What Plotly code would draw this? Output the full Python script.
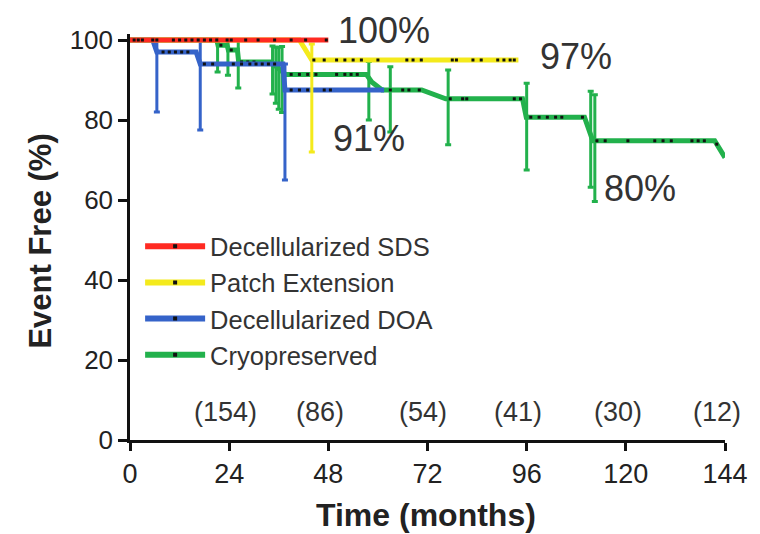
import numpy as np
import plotly.graph_objects as go

# ---------------- data ----------------
series_names = ["Decellularized SDS", "Patch Extension", "Decellularized DOA", "Cryopreserved"]
series_colors = ["#ff2a22", "#f4ea1c", "#3563c9", "#22b14c"]

# Kaplan-Meier curves (time in months, event free %)
sds_t = [0, 48]
sds_s = [100, 100]
sds_cens = [1, 2, 3, 5.5, 6.5, 10.5, 12, 13.5, 15, 16.5, 18, 19.5, 21, 23.5, 24.5, 28, 31, 35, 39, 42.5, 47.5]

pe_t = [0, 41, 44, 94]
pe_s = [100, 100, 95, 95]
pe_cens = [44.5, 47, 50, 52, 54, 56, 60, 67, 68.5, 70.5, 78, 79, 83, 85, 89, 90.5, 92, 93]
pe_err_t = [44]
pe_err_s = [95]
pe_err_up = [4]
pe_err_dn = [23]

doa_t = [0, 5.5, 6.5, 16, 17, 37, 37.5, 61.5]
doa_s = [100, 100, 97, 97, 94, 94, 87.5, 87.5]
doa_cens = [8, 9.5, 11, 12.5, 14, 18, 20, 25, 27, 29, 30.5, 32, 33.5, 35, 39, 41, 43, 47, 48.5]
doa_err_t = [6.5, 17, 37.5]
doa_err_s = [97, 94, 87.5]
doa_err_up = [3, 6, 6.5]
doa_err_dn = [15, 16.5, 22.5]

cryo_t = [0, 21, 21.3, 23.5, 23.8, 26, 26.3, 34.3, 35.5, 36.5, 37.7, 57.2, 58.5, 61, 70.6, 76.4, 95, 95.9, 110, 112, 141.5, 144]
cryo_s = [100, 100, 98.7, 98.7, 97.5, 97.5, 94.5, 94.5, 93.2, 92.2, 91.4, 91.4, 89.5, 87.5, 87.5, 85.3, 85.3, 80.7, 80.7, 74.8, 74.8, 70.6]
cryo_cens = [22, 24.5, 27, 28.5, 30, 39, 41, 43, 45, 50, 52, 53.5, 55, 63, 66, 67.5, 70, 77.5, 80.5, 81.5, 93, 94.5,
             97, 99, 101, 103, 104.5, 109.5, 113, 115, 120.5, 127, 129, 131, 136, 137.5, 139, 142]
cryo_err_t = [21.2, 23.7, 26.2, 34.5, 35.3, 36, 36.8, 57.8, 63, 77, 96, 111.5, 112.5]
cryo_err_s = [98.7, 97.5, 94.5, 94.5, 93.2, 92.2, 91.4, 91.4, 87.5, 85.3, 80.7, 80.7, 74.8]
cryo_err_up = [1.3, 2.5, 5.5, 4, 5, 6, 7, 3.2, 5.8, 7.2, 8.5, 6.5, 11.5]
cryo_err_dn = [6.7, 6.3, 6.5, 8, 9, 9.5, 9.5, 11.4, 10.5, 11.5, 13.2, 17.5, 15.2]

risk_t = [23, 46, 71, 94, 118, 142]
risk_n = [154, 86, 54, 41, 30, 12]

pct_labels = ["100%", "97%", "91%", "80%"]
pct_t = [61.5, 108, 57.8, 123.4]
pct_s = [102.5, 95.8, 75.5, 63]

x_ticks = [0, 24, 48, 72, 96, 120, 144]
y_ticks = [0, 20, 40, 60, 80, 100]

Y_MAX = 101.5

# ---------------- figure ----------------
fig = go.Figure()

curves = [
    (sds_t, sds_s, sds_cens, None),
    (pe_t, pe_s, pe_cens, (pe_err_t, pe_err_s, pe_err_up, pe_err_dn)),
    (doa_t, doa_s, doa_cens, (doa_err_t, doa_err_s, doa_err_up, doa_err_dn)),
    (cryo_t, cryo_s, cryo_cens, (cryo_err_t, cryo_err_s, cryo_err_up, cryo_err_dn)),
]

draw_order = [3, 2, 1, 0]
for i in draw_order:
    t, s, cens, err = curves[i]
    col = series_colors[i]
    if err is not None:
        et, es, eu, ed = err
        fig.add_trace(go.Scatter(
            x=et, y=es, mode="markers", marker=dict(size=1, color=col, opacity=0),
            error_y=dict(type="data", symmetric=False, array=eu, arrayminus=ed,
                         color=col, thickness=3, width=3),
            showlegend=False, hoverinfo="skip"))
    fig.add_trace(go.Scatter(
        x=t, y=s, mode="lines", line=dict(color=col, width=5),
        showlegend=False, hoverinfo="skip"))
    cy = np.interp(cens, t, s)
    fig.add_trace(go.Scatter(
        x=cens, y=cy, mode="markers",
        marker=dict(symbol="square", size=3, color="#111111"),
        showlegend=False, hoverinfo="skip", cliponaxis=False))

# legend entries
for i, name in enumerate(series_names):
    fig.add_trace(go.Scatter(
        x=[None], y=[None], mode="lines+markers", name=name, legendgroup=name,
        line=dict(color=series_colors[i], width=6),
        marker=dict(symbol="square", size=4, color="#111111")))

# numbers at risk
for t, n in zip(risk_t, risk_n):
    fig.add_annotation(x=t, y=7, text=f"({n})", showarrow=False,
                       font=dict(size=27, color="#333333"), xanchor="center", yanchor="middle")

# percent labels (paper y so that labels above the axis range stay visible)
for lab, t, s in zip(pct_labels, pct_t, pct_s):
    fig.add_annotation(x=t, xref="x", y=s / Y_MAX, yref="paper", text=lab, showarrow=False,
                       font=dict(size=36, color="#333333"), xanchor="center", yanchor="middle")

# axis titles
fig.add_annotation(xref="paper", yref="paper", x=0.498, y=-0.185, text="<b>Time (months)</b>",
                   showarrow=False, font=dict(size=32, color="#222222"), xanchor="center", yanchor="middle")
fig.add_annotation(xref="paper", yref="paper", x=-0.152, y=0.49, text="<b>Event Free (%)</b>",
                   showarrow=False, font=dict(size=31, color="#222222"), textangle=-90,
                   xanchor="center", yanchor="middle")

fig.update_layout(
    width=752, height=526,
    margin=dict(l=122, r=30, t=26, b=94),
    paper_bgcolor="white", plot_bgcolor="white",
    font=dict(family="Liberation Sans, Arial, sans-serif", color="#222222"),
    legend=dict(x=0.017, y=0.534, xanchor="left", yanchor="top", bgcolor="rgba(0,0,0,0)",
                font=dict(size=25.5, color="#333333"), itemwidth=60, tracegroupgap=6,
                traceorder="normal"),
    xaxis=dict(range=[0, 144], tickvals=x_ticks, showline=True, linewidth=2.5, linecolor="#111111",
               ticks="outside", ticklen=8, tickwidth=2.5, tickcolor="#111111", showgrid=False,
               zeroline=False, tickfont=dict(size=27, color="#222222", family="Liberation Sans, Arial")),
    yaxis=dict(range=[0, Y_MAX], tickvals=y_ticks, showline=True, linewidth=2.5, linecolor="#111111",
               ticks="outside", ticklen=9, tickwidth=2.5, tickcolor="#111111", showgrid=False,
               zeroline=False, tickfont=dict(size=26, color="#222222", family="Liberation Sans, Arial")),
)
fig.update_xaxes(tickprefix="<b>", ticksuffix="</b>")
fig.update_yaxes(tickprefix="<b>", ticksuffix="</b>")

fig.write_html("out.html")
